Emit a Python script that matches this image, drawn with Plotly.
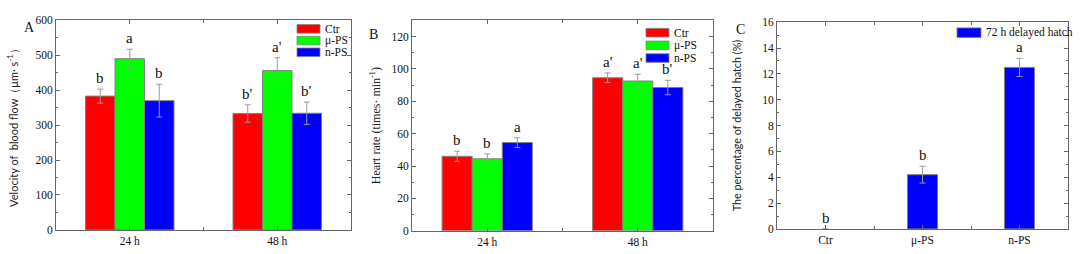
import plotly.graph_objects as go

# ---------------- data ----------------
groups = ["Ctr", "μ-PS", "n-PS"]
colors = ["#FF0000", "#00FF00", "#0000FF"]

time_labels = ["24 h", "48 h"]

vel_mean = {"Ctr": [383, 333], "μ-PS": [490, 456], "n-PS": [370, 334]}
vel_err = {"Ctr": [20, 25], "μ-PS": [27, 37], "n-PS": [47, 32]}
vel_sig = {"Ctr": ["b", "b'"], "μ-PS": ["a", "a'"], "n-PS": ["b", "b'"]}

hr_mean = {"Ctr": [46, 94.5], "μ-PS": [44.5, 92.5], "n-PS": [54.5, 88.5]}
hr_err = {"Ctr": [3.2, 3], "μ-PS": [3, 4.2], "n-PS": [3, 4.5]}
hr_sig = {"Ctr": ["b", "a'"], "μ-PS": ["b", "a'"], "n-PS": ["a", "b'"]}

hatch_cats = ["Ctr", "μ-PS", "n-PS"]
hatch_mean = [0, 4.2, 12.5]
hatch_err = [0, 0.65, 0.7]
hatch_sig = ["b", "b", "a"]
hatch_name = "72 h delayed hatch"

SERIF = "Liberation Serif"
SANS = "Lato"
FRAME = "#666666"
ERRC = "#9a9a9a"
OUTLINE = "#808080"
W, H = 1080, 254

fig = go.Figure()
shapes = []
annotations = []

bar_w = 0.2  # width of each bar in a group (category units)


def sig_labels(xref, yref, xs, tops, labels):
    for x, t, s in zip(xs, tops, labels):
        annotations.append(dict(text=s, x=x, y=t, xref=xref, yref=yref,
                                xanchor="center", yanchor="bottom", yshift=1,
                                showarrow=False,
                                font=dict(family=SERIF, size=15, color="#111")))


def grouped(xaxis, yaxis, means, errs, sigs):
    for i, g in enumerate(groups):
        off = (i - 1) * bar_w
        xs = [k + off for k in range(len(time_labels))]
        fig.add_trace(go.Bar(
            x=xs, y=means[g], width=bar_w, name=g,
            marker=dict(color=colors[i], line=dict(color=OUTLINE, width=1)),
            error_y=dict(type="data", array=errs[g], color=ERRC, thickness=1, width=3),
            xaxis=xaxis, yaxis=yaxis, showlegend=False,
        ))
        tops = [m + e for m, e in zip(means[g], errs[g])]
        sig_labels(xaxis, yaxis, xs, tops, sigs[g])


grouped("x", "y", vel_mean, vel_err, vel_sig)
grouped("x2", "y2", hr_mean, hr_err, hr_sig)

cx = list(range(len(hatch_cats)))
fig.add_trace(go.Bar(
    x=cx, y=hatch_mean, width=0.31, name=hatch_name,
    marker=dict(color="#0000FF",
                line=dict(color=OUTLINE, width=[1 if m > 0 else 0 for m in hatch_mean])),
    error_y=dict(type="data", array=[e if e > 0 else None for e in hatch_err],
                 color=ERRC, thickness=1, width=3),
    xaxis="x3", yaxis="y3", showlegend=False,
))
sig_labels("x3", "y3", cx, [m + e for m, e in zip(hatch_mean, hatch_err)], hatch_sig)


def xd(a, b):
    return [a / W, b / W]


def yd(top, bot):
    return [1 - bot / H, 1 - top / H]


common_axis = dict(showline=True, linecolor=FRAME, linewidth=1, mirror="ticks",
                   ticks="inside", tickcolor=FRAME, ticklen=4, showgrid=False,
                   zeroline=False, tickfont=dict(family=SERIF, size=11.5, color="#111"))


# ---- legends drawn as keys (swatch + label) ----
def key(names, cols, left, top_row, step, sw=23, sh=9):
    for j, (nm, c) in enumerate(zip(names, cols)):
        cy = top_row + j * step
        shapes.append(dict(type="rect", xref="paper", yref="paper",
                           x0=left / W, x1=(left + sw) / W,
                           y0=1 - (cy + sh / 2) / H, y1=1 - (cy - sh / 2) / H,
                           fillcolor=c, line=dict(color=OUTLINE, width=0.8)))
        annotations.append(dict(text=nm, x=(left + sw + 3) / W, y=1 - cy / H,
                                xref="paper", yref="paper", xanchor="left", yanchor="middle",
                                showarrow=False, font=dict(family=SERIF, size=11.5, color="#111")))


key(groups, colors, 297, 24, 12.3)
key(groups, colors, 646, 28, 13.3)
key([hatch_name], ["#0000FF"], 957, 28, 13, sw=24, sh=10)

for lab, px, py in [("A", 22, 13), ("B", 373, 20), ("C", 747, 15)]:
    annotations.append(dict(text=lab, x=px / W, y=1 - py / H, xref="paper", yref="paper",
                            showarrow=False, font=dict(family=SERIF, size=14, color="#111")))

fig.update_layout(
    width=W, height=H, margin=dict(l=0, r=0, t=0, b=0),
    paper_bgcolor="white", plot_bgcolor="white", barmode="overlay",
    showlegend=False,
    xaxis=dict(domain=xd(56, 351), anchor="y", range=[-0.5, 1.5],
               tickvals=list(range(len(time_labels))), ticktext=time_labels,
               minor=dict(ticks="inside", ticklen=3, tickcolor=FRAME, tick0=0.5, dtick=1),
               **common_axis),
    yaxis=dict(domain=yd(15, 235), anchor="x", range=[0, 600], dtick=100,
               minor=dict(ticks="inside", ticklen=2, tickcolor=FRAME, dtick=50),
               title=dict(text="Velocity of  blood flow（μm· s<sup>-1</sup>）",
                          font=dict(family=SANS, size=11, color="#222"), standoff=14),
               **common_axis),
    xaxis2=dict(domain=xd(412, 713), anchor="y2", range=[-0.5, 1.5],
                tickvals=list(range(len(time_labels))), ticktext=time_labels,
                minor=dict(ticks="inside", ticklen=3, tickcolor=FRAME, tick0=0.5, dtick=1),
                **common_axis),
    yaxis2=dict(domain=yd(15, 236), anchor="x2", range=[0, 130],
                tickvals=[0, 20, 40, 60, 80, 100, 120],
                minor=dict(ticks="inside", ticklen=2, tickcolor=FRAME, dtick=10),
                title=dict(text="Heart rate (times· min<sup>-1</sup>)",
                           font=dict(family=SERIF, size=12, color="#222"), standoff=8),
                **common_axis),
    xaxis3=dict(domain=xd(777, 1068), anchor="y3", range=[-0.5, 2.5],
                tickvals=cx, ticktext=hatch_cats,
                minor=dict(ticks="inside", ticklen=3, tickcolor=FRAME, tick0=0.5, dtick=1),
                **common_axis),
    yaxis3=dict(domain=yd(17, 234), anchor="x3", range=[0, 16], dtick=2,
                minor=dict(ticks="inside", ticklen=2, tickcolor=FRAME, dtick=1),
                title=dict(text="The percentage of delayed hatch (%)",
                           font=dict(family=SANS, size=10.8, color="#222"), standoff=18),
                **common_axis),
    shapes=shapes,
    annotations=annotations,
)

fig.write_html("out.html")
